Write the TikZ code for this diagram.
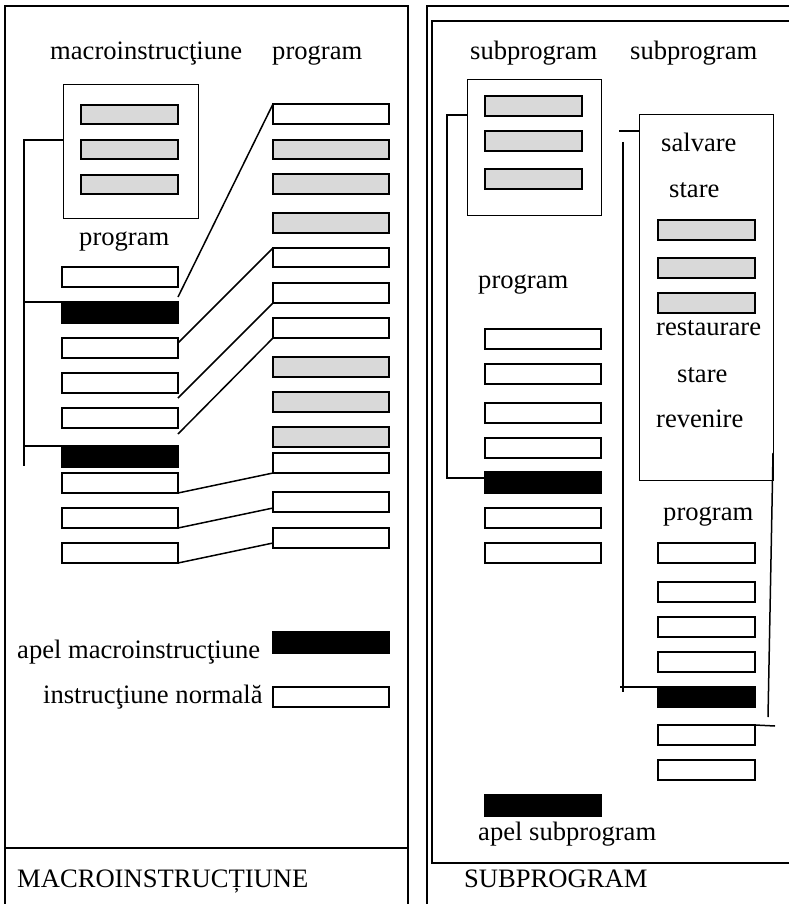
\documentclass[tikz,border=0pt]{standalone}
\usepackage{fontspec}
\setmainfont{Liberation Serif}
\usetikzlibrary{calc}
\definecolor{shade}{HTML}{D9D9D9}
\tikzset{
  cell/.style={draw, line width=2pt, inner sep=0pt, outer sep=0pt, anchor=north west},
  wcell/.style={cell, fill=white},
  gcell/.style={cell, fill=shade},
  bcell/.style={cell, fill=black},
  frame/.style={draw, line width=1.5pt},
  thinbox/.style={draw, line width=1pt, inner sep=0pt, outer sep=0pt, anchor=north west},
  link/.style={line width=1.5pt},
  lbl/.style={anchor=base west, inner sep=0pt, font=\fontsize{26.6}{30}\selectfont},
}
% \cellat{style}{name}{x}{y}{width}{height}
\newcommand\cellat[6]{\node[#1, minimum width=#5pt, minimum height=#6pt] (#2) at (#3,#4) {};}
\begin{document}
\begin{tikzpicture}[x=1pt,y=-1pt]
\useasboundingbox (0,0) rectangle (789,904);

% ---------------- outer frames ----------------
\draw[frame] (5,904) -- (5,6) -- (408,6) -- (408,904);
\draw[frame] (5,848) -- (408,848);
\draw[line width=1.5pt] (427,904) -- (427,6) -- (789,6);
\draw[line width=2pt] (789,863) -- (432,863) -- (432,21) -- (789,21);

% ---------------- left panel: macro-instruction ----------------
\node[lbl] (tmacro) at (50,60) {macroinstrucţiune};
\node[lbl] (tprogA) at (272,60) {program};
\node[lbl] (tprogB) at (79,245) {program};

\node[thinbox, minimum width=135pt, minimum height=133pt] (mbox) at (63,85) {};
\cellat{gcell}{m1}{81}{105}{97}{19}
\cellat{gcell}{m2}{81}{140}{97}{19}
\cellat{gcell}{m3}{81}{175}{97}{19}

% source program
\cellat{wcell}{lw1}{62}{267}{116}{20}
\cellat{bcell}{lb1}{62}{302}{116}{21}
\cellat{wcell}{lw2}{62}{338}{116}{20}
\cellat{wcell}{lw3}{62}{373}{116}{20}
\cellat{wcell}{lw4}{62}{408}{116}{20}
\cellat{bcell}{lb2}{62}{446}{116}{21}
\cellat{wcell}{lw5}{62}{473}{116}{20}
\cellat{wcell}{lw6}{62}{508}{116}{20}
\cellat{wcell}{lw7}{62}{543}{116}{20}

% expanded program
\cellat{wcell}{r1}{273}{104}{116}{20}
\cellat{gcell}{r2}{273}{140}{116}{19}
\cellat{gcell}{r3}{273}{174}{116}{20}
\cellat{gcell}{r4}{273}{213}{116}{20}
\cellat{wcell}{r5}{273}{248}{116}{19}
\cellat{wcell}{r6}{273}{283}{116}{20}
\cellat{wcell}{r7}{273}{318}{116}{20}
\cellat{gcell}{r8}{273}{357}{116}{20}
\cellat{gcell}{r9}{273}{392}{116}{20}
\cellat{gcell}{r10}{273}{427}{116}{20}
\cellat{wcell}{r11}{273}{453}{116}{20}
\cellat{wcell}{r12}{273}{492}{116}{20}
\cellat{wcell}{r13}{273}{528}{116}{20}

% bracket tying the macro body to its calls
\coordinate (kt) at (24,140);
\coordinate (kb) at (24,466);
\draw[link] (kt -| mbox.west) -- (kt) -- (kb);
\draw[link] (kt |- lb1.north) -- (lb1.north west);
\draw[link] (kt |- lb2.north) -- (lb2.north west);

% correspondence lines
\draw[link] ([yshift=5pt]lb1.north east) -- (r1.north west);
\draw[link] ([yshift=-5pt]lw2.north east) -- (r5.north west);
\draw[link] ([yshift=-5pt]lw3.south east) -- (r6.south west);
\draw[link] ([yshift=-6pt]lw4.south east) -- (r7.south west);
\draw[link] (lw5.south east) -- (r11.south west);
\draw[link] (lw6.south east) -- ([yshift=4pt]r12.south west);
\draw[link] (lw7.south east) -- ([yshift=5pt]r13.south west);

% legend
\node[lbl] (tapelm) at (17,658) {apel macroinstrucţiune};
\cellat{bcell}{legb}{273}{632}{116}{21}
\node[lbl] (tnorm) at (43,703) {instrucţiune normală};
\cellat{wcell}{legw}{273}{687}{116}{20}

\node[lbl] (tmacrotitle) at (17,887) {MACROINSTRUCȚIUNE};

% ---------------- right panel: subroutine ----------------
\node[lbl] (tsubA) at (470,60) {subprogram};
\node[lbl] (tsubB) at (630,60) {subprogram};

\node[thinbox, minimum width=134pt, minimum height=135pt] (sbox) at (467,80) {};
\cellat{gcell}{s1}{485}{96}{97}{20}
\cellat{gcell}{s2}{485}{131}{97}{20}
\cellat{gcell}{s3}{485}{169}{97}{20}

\node[lbl] (tprogC) at (478,288) {program};
\cellat{wcell}{p1}{485}{329}{116}{20}
\cellat{wcell}{p2}{485}{364}{116}{20}
\cellat{wcell}{p3}{485}{403}{116}{20}
\cellat{wcell}{p4}{485}{438}{116}{20}
\cellat{bcell}{pb}{485}{472}{116}{21}
\cellat{wcell}{p5}{485}{508}{116}{20}
\cellat{wcell}{p6}{485}{543}{116}{20}

% call from the first program
\coordinate (ja) at (447,115);
\coordinate (jb) at (447,478);
\draw[link] (ja -| sbox.west) -- (ja) -- (jb) -- (jb -| pb.west);

% second subroutine with state save / restore
\node[thinbox, minimum width=134pt, minimum height=365pt] (rbox) at (639,115) {};
\node[lbl] (tsalv) at (661,152) {salvare};
\node[lbl] (tst1) at (669,197) {stare};
\cellat{gcell}{q1}{658}{220}{97}{20}
\cellat{gcell}{q2}{658}{258}{97}{20}
\cellat{gcell}{q3}{658}{293}{97}{20}
\node[lbl] (trest) at (656,335) {restaurare};
\node[lbl] (tst2) at (677,382) {stare};
\node[lbl] (trev) at (656,427) {revenire};

\node[lbl] (tprogD) at (663,520) {program};
\cellat{wcell}{u1}{658}{543}{97}{20}
\cellat{wcell}{u2}{658}{582}{97}{20}
\cellat{wcell}{u3}{658}{617}{97}{20}
\cellat{wcell}{u4}{658}{652}{97}{20}
\cellat{bcell}{ub}{658}{687}{97}{20}
\cellat{wcell}{u5}{658}{725}{97}{20}
\cellat{wcell}{u6}{658}{760}{97}{20}

% call and return of the second program
\coordinate (ca) at (619,131);
\coordinate (cb) at (623,142);
\coordinate (cc) at (623,692);
\coordinate (cd) at (620,687);
\draw[link] (ca) -- (ca -| rbox.west);
\draw[link] (cb) -- (cc);
\draw[link] (cd) -- (ub.north west);
\coordinate (ra) at (773,453);
\coordinate (rb) at (768,717);
\coordinate (rc) at (775,726);
\draw[link] (ra) -- (rb);
\draw[link] (u5.north east) -- (rc);

% legend
\cellat{bcell}{sleg}{485}{795}{116}{21}
\node[lbl] (tapels) at (478,840) {apel subprogram};

\node[lbl] (tsubtitle) at (464,887) {SUBPROGRAM};
\end{tikzpicture}
\end{document}
